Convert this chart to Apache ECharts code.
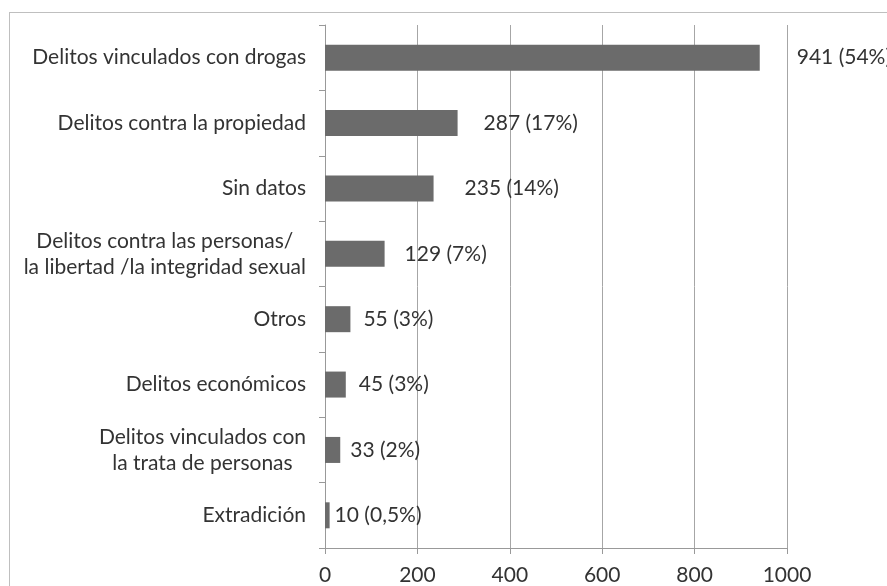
<!DOCTYPE html>
<html>
<head>
<meta charset="utf-8">
<script src="https://cdn.jsdelivr.net/npm/echarts@6/dist/echarts.min.js"></script>
<style>
  html, body { margin: 0; padding: 0; background: #fff; overflow: hidden; }
  #chart { position: absolute; left: 0; top: 0; width: 887px; height: 586px; }
  #frame { position: absolute; left: 9px; top: 12px; width: 1000px; height: 700px; border: 1px solid #bfbfbf; box-sizing: border-box; pointer-events: none; }
</style>
</head>
<body>
<div id="frame"></div>
<div id="chart"></div>
<script>
const categories = [
  'Delitos vinculados con drogas',
  'Delitos contra la propiedad',
  'Sin datos',
  'Delitos contra las personas/\nla libertad /la integridad sexual',
  'Otros',
  'Delitos económicos',
  'Delitos vinculados con\nla trata de personas',
  'Extradición'
];
const values = [941, 287, 235, 129, 55, 45, 33, 10];
const percents = ['54%', '17%', '14%', '7%', '3%', '3%', '2%', '0,5%'];
const xTicks = [0, 200, 400, 600, 800, 1000];

// label gap from bar end (style only)
const labelGaps = [37, 26, 31, 20, 13, 13, 10, 5];

const FONT = 'Lato';
const FS = 21;
const TXT = '#333333';

const chart = echarts.init(document.getElementById('chart'), null, { renderer: 'canvas' });

chart.setOption({
  animation: false,
  backgroundColor: 'transparent',
  grid: { left: 325, top: 25, right: 100, bottom: 38, containLabel: false },
  xAxis: {
    type: 'value',
    min: xTicks[0],
    max: xTicks[xTicks.length - 1],
    interval: xTicks[1] - xTicks[0],
    axisLine: { show: true, lineStyle: { color: '#999999', width: 1 } },
    axisTick: { show: true, length: 6, lineStyle: { color: '#999999' } },
    splitLine: { show: true, lineStyle: { color: '#a6a6a6', width: 1 } },
    axisLabel: {
      color: TXT, fontFamily: FONT, fontSize: FS, margin: 17,
      formatter: function (v) { return String(v); }
    }
  },
  yAxis: {
    type: 'category',
    inverse: true,
    data: categories,
    axisLine: { show: true, lineStyle: { color: '#999999', width: 1 } },
    axisTick: { show: true, length: 6, lineStyle: { color: '#999999' } },
    axisLabel: {
      color: TXT, fontFamily: FONT, fontSize: FS, margin: 19, lineHeight: 26,
      formatter: function (v) {
        if (v.indexOf('\n') < 0) return v;
        return v.split('\n').map(function (l) { return '{c|' + l + '}'; }).join('\n');
      },
      rich: { c: { align: 'center', color: TXT, fontFamily: FONT, fontSize: FS, lineHeight: 26 } }
    }
  },
  series: [{
    type: 'bar',
    barWidth: 26,
    itemStyle: { color: '#6b6b6b' },
    data: values.map(function (v, i) {
      return {
        value: v,
        label: {
          show: true, position: 'right', distance: labelGaps[i],
          color: TXT, fontFamily: FONT, fontSize: FS,
          formatter: v + ' (' + percents[i] + ')'
        }
      };
    })
  }]
});
</script>
</body>
</html>
